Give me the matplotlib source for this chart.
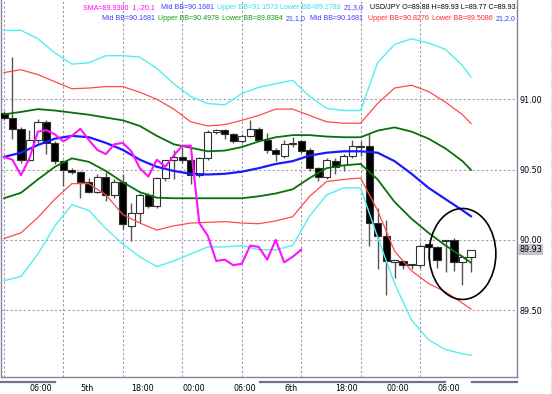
import matplotlib
matplotlib.use('Agg')
import matplotlib.pyplot as plt
from matplotlib.patches import Rectangle, Ellipse
from matplotlib.lines import Line2D
import matplotlib.transforms as mtransforms

# ---------------- data (hourly USD/JPY candles) ----------------
opens = [90.90, 90.87, 90.79, 90.57, 90.71, 90.84, 90.69, 90.56, 90.50, 90.48,
         90.41, 90.34, 90.45, 90.32, 90.41, 90.10, 90.19, 90.32, 90.24, 90.44,
         90.57, 90.59, 90.57, 90.46, 90.58, 90.77, 90.78, 90.75, 90.70, 90.74,
         90.79, 90.71, 90.64, 90.60, 90.68, 90.70, 90.64, 90.51, 90.45, 90.56,
         90.53, 90.60, 90.66, 90.67, 90.12, 90.03, 89.84, 89.85, 89.82, 89.82,
         89.97, 89.95, 89.99, 90.00, 89.84, 89.88]
highs = [90.92, 91.30, 90.80, 90.78, 90.86, 90.85, 90.70, 90.57, 90.51, 90.49,
         90.44, 90.47, 90.48, 90.43, 90.47, 90.26, 90.33, 90.33, 90.45, 90.57,
         90.64, 90.66, 90.58, 90.59, 90.78, 90.79, 90.79, 90.76, 90.75, 90.85,
         90.80, 90.76, 90.65, 90.71, 90.73, 90.71, 90.65, 90.52, 90.58, 90.58,
         90.61, 90.71, 90.70, 90.75, 90.23, 90.14, 89.86, 89.86, 89.83, 89.97,
         89.98, 89.96, 90.00, 90.01, 89.89, 89.93]
lows = [90.85, 90.72, 90.55, 90.56, 90.69, 90.61, 90.54, 90.38, 90.47, 90.30,
        90.33, 90.33, 90.28, 90.30, 90.08, 89.99, 90.12, 90.23, 90.23, 90.42,
        90.43, 90.55, 90.40, 90.45, 90.57, 90.75, 90.72, 90.69, 90.69, 90.73,
        90.70, 90.62, 90.56, 90.58, 90.66, 90.62, 90.49, 90.42, 90.43, 90.47,
        90.49, 90.58, 90.60, 89.96, 89.79, 89.61, 89.73, 89.79, 89.79, 89.80,
        89.84, 89.80, 89.77, 89.78, 89.68, 89.77]
closes = [90.87, 90.79, 90.57, 90.71, 90.84, 90.69, 90.56, 90.50, 90.48, 90.41,
          90.34, 90.45, 90.32, 90.41, 90.11, 90.19, 90.32, 90.24, 90.44, 90.57,
          90.59, 90.57, 90.46, 90.58, 90.77, 90.78, 90.75, 90.70, 90.74, 90.79,
          90.71, 90.64, 90.61, 90.68, 90.69, 90.63, 90.51, 90.45, 90.57, 90.52,
          90.60, 90.67, 90.67, 90.12, 90.03, 89.85, 89.86, 89.82, 89.83, 89.96,
          89.95, 89.86, 90.00, 89.84, 89.88, 89.93]

band_x = [0, 2, 4, 6, 8, 10, 12, 14, 16, 18, 20, 22, 24, 26, 28, 30, 32, 34,
          36, 38, 40, 42, 44, 46, 48, 50, 52, 54, 55]
mid_bb = [90.59, 90.62, 90.675, 90.72, 90.74, 90.73, 90.69, 90.64, 90.57, 90.52,
          90.49, 90.47, 90.465, 90.47, 90.485, 90.51, 90.54, 90.56, 90.60, 90.62,
          90.63, 90.63, 90.62, 90.56, 90.47, 90.37, 90.29, 90.21, 90.168]
upper_1 = [90.893, 90.91, 90.93, 90.92, 90.905, 90.89, 90.87, 90.85, 90.81, 90.74,
           90.68, 90.655, 90.63, 90.635, 90.66, 90.70, 90.73, 90.745, 90.745, 90.735,
           90.73, 90.73, 90.777, 90.80, 90.77, 90.72, 90.65, 90.56, 90.498]
lower_1 = [90.296, 90.335, 90.43, 90.52, 90.58, 90.555, 90.49, 90.41, 90.34, 90.30,
           90.296, 90.296, 90.296, 90.296, 90.296, 90.31, 90.33, 90.36, 90.44, 90.51,
           90.53, 90.54, 90.43, 90.27, 90.15, 90.05, 89.96, 89.88, 89.838]
upper_2 = [91.19, 91.21, 91.175, 91.125, 91.075, 91.08, 91.09, 91.09, 91.05, 91.00,
           90.93, 90.84, 90.81, 90.82, 90.85, 90.885, 90.93, 90.93, 90.885, 90.84,
           90.83, 90.83, 90.97, 91.08, 91.10, 91.055, 90.98, 90.89, 90.828]
lower_2 = [90.01, 90.05, 90.16, 90.29, 90.40, 90.40, 90.32, 90.18, 90.12, 90.07,
           90.10, 90.12, 90.125, 90.13, 90.12, 90.115, 90.135, 90.165, 90.31, 90.415,
           90.43, 90.44, 90.21, 89.92, 89.78, 89.69, 89.63, 89.55, 89.509]
upper_3 = [91.49, 91.49, 91.43, 91.33, 91.25, 91.26, 91.31, 91.31, 91.30, 91.22,
           91.11, 91.02, 90.97, 90.96, 91.04, 91.085, 91.11, 91.135, 91.02, 90.935,
           90.92, 90.92, 91.26, 91.39, 91.43, 91.40, 91.355, 91.24, 91.157]
lower_3 = [89.71, 89.74, 89.90, 90.10, 90.25, 90.21, 90.08, 89.97, 89.88, 89.81,
           89.85, 89.90, 89.95, 89.95, 89.96, 89.93, 89.93, 89.96, 90.17, 90.32,
           90.37, 90.37, 90.02, 89.69, 89.43, 89.29, 89.22, 89.19, 89.179]

# SMA(1) shifted -20 bars (magenta)
sma_vals = [90.59, 90.57, 90.46, 90.58, 90.77, 90.78, 90.75, 90.70, 90.74, 90.79,
            90.71, 90.64, 90.61, 90.68, 90.69, 90.63, 90.51, 90.45, 90.57, 90.52,
            90.60, 90.67, 90.67, 90.12, 90.03, 89.85, 89.86, 89.82, 89.83, 89.96,
            89.95, 89.86, 90.00, 89.84, 89.88, 89.93]

y_ticks = [89.5, 90.0, 90.5, 91.0]
y_tick_labels = ['89.50', '90.00', '90.50', '91.00']
x_tick_pos = [3, 9, 15, 21, 27, 33, 39, 45, 51]
x_tick_labels = ['06:00', '5th', '18:00', '00:00', '06:00', '6th', '18:00', '00:00', '06:00']
vgrid_pos = [0, 7, 14, 21, 28, 35, 42, 49]
last_price = 89.93

# ---------------- figure ----------------
W, H = 552, 394
fig = plt.figure(figsize=(W / 100, H / 100), dpi=100)
fig.patch.set_facecolor('white')
ax = fig.add_axes([1 / W, 17 / H, 516 / W, 377 / H])
ax.set_xlim(-0.35, 60.42)
ax.set_ylim(89.025, 91.706)

grid_c = '#9c98b0'
for gx in vgrid_pos:
    ax.axvline(gx, color=grid_c, lw=0.8, ls=(0, (2, 2)), zorder=1)
for gy in y_ticks:
    ax.axhline(gy, color='#b098b0', lw=0.8, ls=(0, (2, 2)), zorder=1)

# candles
bw = 0.84
for i, (o, h, l, c) in enumerate(zip(opens, highs, lows, closes)):
    ax.plot([i, i], [l, h], color='#555555', lw=1.0, zorder=2, solid_capstyle='butt')
    lo = min(o, c)
    ht = max(abs(c - o), 0.006)
    fc = 'black' if c < o else 'white'
    ax.add_patch(Rectangle((i - bw / 2, lo), bw, ht, facecolor=fc,
                           edgecolor='#303030', lw=0.8, zorder=3))

# bands
ax.plot(band_x, upper_3, color='#50f0f0', lw=1.0, zorder=4)
ax.plot(band_x, lower_3, color='#50f0f0', lw=1.0, zorder=4)
ax.plot(band_x, upper_2, color='#ff4a4a', lw=0.9, zorder=4)
ax.plot(band_x, lower_2, color='#ff4a4a', lw=0.9, zorder=4)
ax.plot(band_x, upper_1, color='#087008', lw=1.3, zorder=4)
ax.plot(band_x, lower_1, color='#087008', lw=1.3, zorder=4)
ax.plot(band_x, mid_bb, color='#1a1aff', lw=1.6, zorder=4)
ax.plot(range(len(sma_vals)), sma_vals, color='#ff10ff', lw=1.5, zorder=5)

# annotation ellipse around recent bars
ax.add_patch(Ellipse((54.0, 89.90), 7.86, 0.647, fill=False,
                     edgecolor='black', lw=1.2, zorder=6, clip_on=False))

# axes styling
for s in ['left', 'bottom', 'right']:
    ax.spines[s].set_color('#8a80a0')
    ax.spines[s].set_linewidth(1.0)
ax.spines['top'].set_visible(False)

ax.yaxis.tick_right()
ax.set_yticks(y_ticks)
ax.set_yticklabels(y_tick_labels)
ax.tick_params(axis='y', length=0, pad=1.5, labelsize=5.8)
ax.set_xticks(x_tick_pos)
ax.set_xticklabels(x_tick_labels)
ax.tick_params(axis='x', length=0, pad=5.3, labelsize=5.8)
for lbl in ax.get_xticklabels():
    lbl.set_ha('left')

# last price label
tr = mtransforms.blended_transform_factory(ax.transAxes, ax.transData)
ax.text(1.004, last_price, '89.93', transform=tr, fontsize=5.8, va='center',
        ha='left', color='black', zorder=7,
        bbox=dict(boxstyle='square,pad=0.15', facecolor='#c4c4cc', edgecolor='none'))
ax.plot([1.049], [last_price], transform=tr, marker=5, color='#ff00ff',
        markersize=2.5, clip_on=False)

# date bars under the time axis
yb = 1 - 382 / H
for x0, x1 in [(0, 54.6), (259.5, 445), (472, 517)]:
    fig.add_artist(Line2D([x0 / W, x1 / W], [yb, yb], transform=fig.transFigure,
                          color='#707088', lw=1.6))
fig.add_artist(Line2D([550.5 / W, 550.5 / W], [0, 1], transform=fig.transFigure,
                      color='#b8e0b8', lw=0.8, ls=(0, (1, 1))))

# legend rows
fs = 5.1
fam = ['Liberation Sans', 'DejaVu Sans']
magenta, blue, cyan, green, red = '#ff00ff', '#3c3cff', '#30e0f0', '#109a10', '#ff2a2a'


def text_row(base_px, x_start, segments, gaps):
    yf = 1 - base_px / H
    t = fig.text(x_start / W, yf, segments[0][0], color=segments[0][1],
                 fontsize=fs, family=fam, va='baseline', ha='left')
    for (s, c), g in zip(segments[1:], gaps):
        t = ax.annotate(s, xy=(1, yf), xycoords=(t, 'figure fraction'),
                        xytext=(g * 0.72, 0), textcoords='offset points',
                        va='baseline', ha='left', color=c, fontsize=fs,
                        family=fam, annotation_clip=False)


text_row(9.0, 83, [('SMA=89.9300  1,-20,1', magenta), ('Mid BB=90.1681', blue),
                   ('Upper BB=91.1573 Lower BB=89.1789', cyan), ('21,3,0', blue),
                   ('USD/JPY O=89.88 H=89.93 L=89.77 C=89.93', 'black')],
         [6.5, 2.5, 3, 6])
text_row(19.8, 102, [('Mid BB=90.1681', blue), ('Upper BB=90.4978', green),
                     ('Lower BB=89.8384', green), ('21,1,0', blue),
                     ('Mid BB=90.1681', blue), ('Upper BB=90.8276', red),
                     ('Lower BB=89.5086', red), ('21,2,0', blue)],
         [3.5, 3, 3, 4, 5, 3, 3])

fig.savefig('out.png', dpi=100)
